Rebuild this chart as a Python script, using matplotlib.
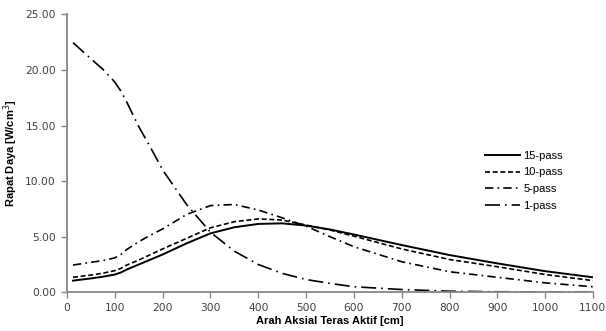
import matplotlib
matplotlib.use("Agg")
import matplotlib.pyplot as plt

plt.rcParams['font.family'] = ['Liberation Sans', 'DejaVu Sans']

x = [12.5, 50, 75, 100, 112.5, 125, 150, 175, 200, 250, 300, 350, 400, 450, 500, 550, 600, 700, 800, 900, 1000, 1100]
pass15 = [1.05, 1.25, 1.4, 1.6, 1.78, 2.05, 2.5, 2.95, 3.4, 4.4, 5.3, 5.85, 6.15, 6.2, 6.0, 5.65, 5.2, 4.25, 3.35, 2.6, 1.9, 1.35]
pass10 = [1.35, 1.55, 1.72, 1.95, 2.15, 2.45, 2.9, 3.4, 3.9, 4.85, 5.8, 6.35, 6.6, 6.5, 6.05, 5.6, 5.05, 3.9, 2.95, 2.3, 1.6, 1.05]
pass5 = [2.45, 2.7, 2.85, 3.1, 3.4, 3.85, 4.55, 5.15, 5.7, 7.0, 7.8, 7.9, 7.4, 6.7, 5.95, 5.0, 4.1, 2.75, 1.85, 1.35, 0.85, 0.5]
pass1 = [22.45, 21.0, 20.05, 18.9, 18.1, 17.1, 14.9, 13.0, 11.0, 7.9, 5.4, 3.7, 2.5, 1.7, 1.15, 0.8, 0.5, 0.25, 0.1, 0.05, 0.03, 0.02]

labels = ['15-pass', '10-pass', '5-pass', '1-pass']
xticks = [0, 100, 200, 300, 400, 500, 600, 700, 800, 900, 1000, 1100]
yticks = [0, 5, 10, 15, 20, 25]

fig = plt.figure(figsize=(6.06, 3.31), dpi=100)
ax = fig.add_axes([0.1106, 0.1169, 0.8679, 0.8399])

ax.plot(x, pass15, color='black', lw=1.4, ls='-', label=labels[0])
ax.plot(x, pass10, color='black', lw=1.2, ls=(0, (3, 1.6)), label=labels[1])
ax.plot(x, pass5, color='black', lw=1.2, ls=(0, (5, 2.5, 1, 2.5)), label=labels[2])
ax.plot(x, pass1, color='black', lw=1.2, ls=(0, (9, 3, 1, 3)), label=labels[3])

ax.set_xlim(0, 1100)
ax.set_ylim(0, 25)
ax.set_xticks(xticks)
ax.set_yticks(yticks)
ax.set_yticklabels([f"{v:.2f}" for v in yticks])
ax.tick_params(axis='both', direction='out', length=4, width=1, color='#868686',
               labelsize=7.7, labelcolor='#404040', pad=4)
for lab in ax.get_xticklabels() + ax.get_yticklabels():
    lab.set_family('DejaVu Sans')

for s in ['top', 'right']:
    ax.spines[s].set_visible(False)
for s in ['left', 'bottom']:
    ax.spines[s].set_color('#868686')
    ax.spines[s].set_linewidth(1.3)

ax.set_xlabel('Arah Aksial Teras Aktif [cm]', fontsize=8, fontweight='bold', labelpad=2)
ax.set_ylabel('Rapat Daya [W/cm$^3$]', fontsize=8, fontweight='bold', labelpad=4)

leg = ax.legend(loc='upper left', bbox_to_anchor=(0.775, 0.545), frameon=False,
                fontsize=8, handlelength=3.2, handletextpad=0.3, labelspacing=0.6)

fig.savefig('out.png', dpi=100)
